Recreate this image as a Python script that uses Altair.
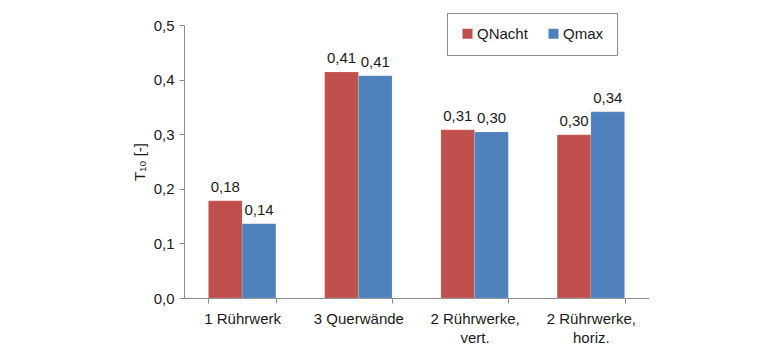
import altair as alt
import pandas as pd

categories = ["1 Rührwerk", "3 Querwände", "2 Rührwerke, vert.", "2 Rührwerke, horiz."]
series = ["QNacht", "Qmax"]
qnacht = [0.178, 0.414, 0.308, 0.299]
qmax = [0.136, 0.407, 0.304, 0.341]
qnacht_labels = ["0,18", "0,41", "0,31", "0,30"]
qmax_labels = ["0,14", "0,41", "0,30", "0,34"]
colors = ["#C0504D", "#4F81BD"]

rows = []
for i, c in enumerate(categories):
    rows.append({"cat": c, "series": "QNacht", "value": qnacht[i], "label": qnacht_labels[i]})
    rows.append({"cat": c, "series": "Qmax", "value": qmax[i], "label": qmax_labels[i]})
df = pd.DataFrame(rows)

FONT = "Liberation Sans"
FS = 15

x = alt.X(
    "cat:N",
    sort=categories,
    title=None,
    scale=alt.Scale(paddingInner=0.42, paddingOuter=0.21),
    axis=alt.Axis(
        labelAngle=0,
        tickBand="extent",
        tickSize=5,
        labelPadding=8,
        labelFontSize=FS,
        labelColor="#1a1a1a",
        labelFont=FONT,
        labelLineHeight=19,
        domainColor="#8c8c8c",
        tickColor="#8c8c8c",
        labelExpr="indexof(datum.label, ', ') > 0 ? [slice(datum.label, 0, indexof(datum.label, ', ') + 1), slice(datum.label, indexof(datum.label, ', ') + 2)] : datum.label",
    ),
)
y = alt.Y(
    "value:Q",
    title="T₁₀ [-]",
    scale=alt.Scale(domain=[0, 0.5], nice=False),
    axis=alt.Axis(
        values=[0, 0.1, 0.2, 0.3, 0.4, 0.5],
        grid=False,
        tickSize=5,
        labelPadding=5,
        labelFontSize=FS,
        labelColor="#1a1a1a",
        labelFont=FONT,
        labelExpr="replace(format(datum.value, '.1f'), '.', ',')",
        domainColor="#8c8c8c",
        tickColor="#8c8c8c",
        titleFont=FONT,
        titleFontSize=FS,
        titleFontWeight="normal",
        titleColor="#1a1a1a",
        titlePadding=6,
    ),
)
xo = alt.XOffset("series:N", sort=series)
color = alt.Color(
    "series:N",
    sort=series,
    scale=alt.Scale(domain=series, range=colors),
    legend=alt.Legend(
        title=None,
        orient="none",
        legendX=263,
        legendY=-12,
        direction="horizontal",
        symbolType="square",
        symbolSize=100,
        symbolStrokeWidth=0,
        labelFont=FONT,
        labelFontSize=FS,
        labelColor="#1a1a1a",
        strokeColor="#8c8c8c",
        fillColor="white",
        padding=13,
        columnPadding=18,
        labelOffset=2,
    ),
)

bars = alt.Chart(df).mark_bar(stroke="white", strokeOpacity=0.3, strokeWidth=0.5).encode(
    x=x, xOffset=xo, y=y, color=color
)
texts = alt.Chart(df).mark_text(
    dy=-14, fontSize=FS, font=FONT, color="#1a1a1a"
).encode(x=x, xOffset=xo, y=y, text="label:N")

chart = (
    alt.layer(bars, texts)
    .properties(
        width=465,
        height=273,
        padding={"left": 184, "top": 25, "right": 131, "bottom": 55},
        autosize=alt.AutoSizeParams(type="none"),
        background="white",
    )
    .configure_view(stroke=None)
)
chart.save("out.html", embed_options={"renderer": "svg", "actions": False})
